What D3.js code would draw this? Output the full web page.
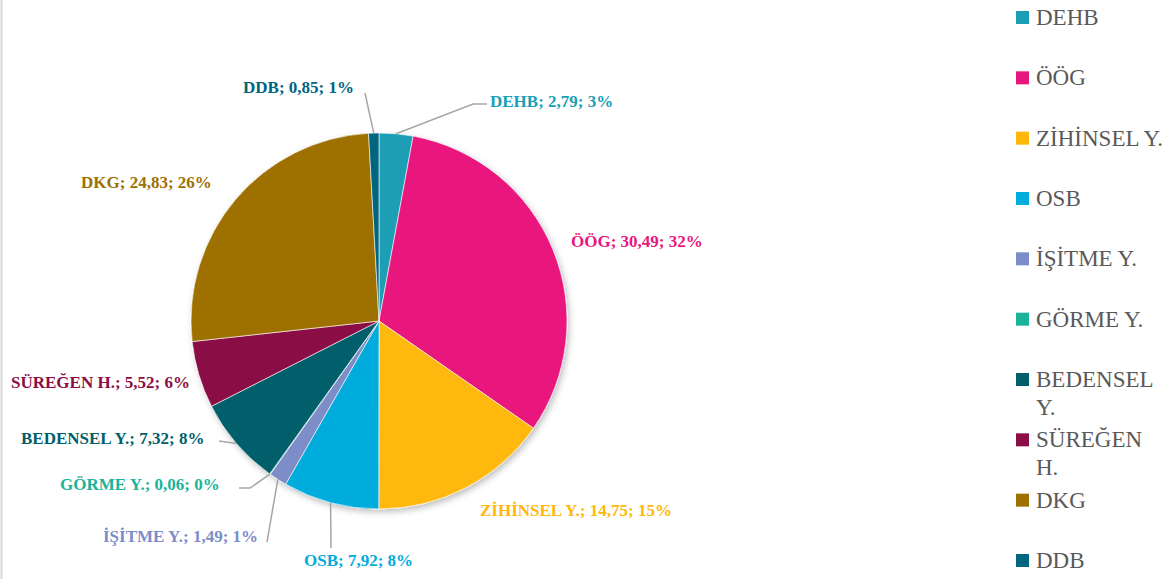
<!DOCTYPE html>
<html>
<head>
<meta charset="utf-8">
<script src="https://cdn.jsdelivr.net/npm/d3@7"></script>
<style>
  body { margin: 0; background: #fff; }
  svg { display: block; }
</style>
</head>
<body>
<div id="chart"></div>
<script>
// veriler
var categories = ['DEHB', 'ÖÖG', 'ZİHİNSEL Y.', 'OSB', 'İŞİTME Y.', 'GÖRME Y.', 'BEDENSEL Y.', 'SÜREĞEN H.', 'DKG', 'DDB']
var values = [2.79, 30.49, 14.75, 7.92, 1.49, 0.06, 7.32, 5.52, 24.83, 0.85]
var percentLabels = ['3%', '32%', '15%', '8%', '1%', '0%', '8%', '6%', '26%', '1%']
var colors = ['#1a9fb5', '#e8177d', '#ffb80a', '#00acdc', '#7b8dc8', '#1ab39a', '#005f6b', '#8b0d45', '#9e7000', '#00657f']
var legendLines = [['DEHB'], ['ÖÖG'], ['ZİHİNSEL Y.'], ['OSB'], ['İŞİTME Y.'], ['GÖRME Y.'], ['BEDENSEL', 'Y.'], ['SÜREĞEN', 'H.'], ['DKG'], ['DDB']]

// etiket yerleşimi (Excel "en uygun" konumu gibi)
var labelLayout = [
    {x: 490, y: 107, line: [[473, 104], [487, 104]]},
    {x: 571, y: 247, line: null},
    {x: 480, y: 516, line: null},
    {x: 304, y: 566, line: [[331, 548]]},
    {x: 103, y: 542, line: [[267, 542]]},
    {x: 60, y: 490, line: [[250, 488], [239, 488]]},
    {x: 21, y: 444, line: [[219, 441]]},
    {x: 11, y: 388, line: null},
    {x: 81, y: 188, line: null},
    {x: 243, y: 93, line: [[365, 93]]}
]

var width = 1174, height = 579
var cx = 379, cy = 321, radius = 188

var svg = d3.select('#chart').append('svg').attr('width', width).attr('height', height)

// sol kenar çizgisi
svg.append('line').attr('x1', 1.5).attr('x2', 1.5).attr('y1', 0).attr('y2', height)
    .attr('stroke', '#d9d9d9').attr('stroke-width', 2)

var defs = svg.append('defs')
var filter = defs.append('filter').attr('id', 'shadow').attr('x', '-10%').attr('y', '-10%').attr('width', '130%').attr('height', '130%')
filter.append('feDropShadow').attr('dx', 2).attr('dy', 3).attr('stdDeviation', 3)
    .attr('flood-color', '#000').attr('flood-opacity', 0.25)

var pie = d3.pie().sort(null).value(function (d) { return d })
var arcs = pie(values)
var arc = d3.arc().innerRadius(0).outerRadius(radius)

var g = svg.append('g').attr('transform', 'translate(' + cx + ',' + cy + ')')
g.append('g').attr('filter', 'url(#shadow)')
    .selectAll('path').data(arcs).enter().append('path')
    .attr('d', arc)
    .attr('fill', function (d, i) { return colors[i] })
    .attr('stroke', '#fff').attr('stroke-width', 0.6)

// kılavuz çizgileri
var edge = d3.arc().innerRadius(radius).outerRadius(radius)
arcs.forEach(function (d, i) {
    var lay = labelLayout[i]
    if (!lay.line) return
    var c = edge.centroid(d)
    var pts = [[cx + c[0], cy + c[1]]].concat(lay.line)
    svg.append('path').attr('d', d3.line()(pts))
        .attr('fill', 'none').attr('stroke', '#a6a6a6').attr('stroke-width', 1.5)
})

// veri etiketleri
svg.selectAll('text.lbl').data(arcs).enter().append('text')
    .attr('class', 'lbl')
    .attr('x', function (d, i) { return labelLayout[i].x })
    .attr('y', function (d, i) { return labelLayout[i].y })
    .attr('fill', function (d, i) { return colors[i] })
    .style('font-family', '"Liberation Serif", "DejaVu Serif", serif')
    .style('font-weight', 'bold')
    .style('font-size', '17px')
    .text(function (d, i) {
        return categories[i] + '; ' + String(values[i].toFixed(2)).replace('.', ',') + '; ' + percentLabels[i]
    })

// lejant
var legendY = d3.scaleLinear().domain([0, categories.length - 1]).range([25, 568])
var legend = svg.selectAll('g.leg').data(categories).enter().append('g')
    .attr('class', 'leg')
    .attr('transform', function (d, i) { return 'translate(1016,' + legendY(i) + ')' })
legend.append('rect').attr('x', 0).attr('y', -14).attr('width', 13).attr('height', 13)
    .attr('fill', function (d, i) { return colors[i] })
legend.append('text')
    .attr('x', 20).attr('y', 0)
    .attr('fill', '#595959')
    .style('font-family', '"Liberation Serif", "DejaVu Serif", serif')
    .style('font-size', '23px')
    .each(function (d, i) {
        var t = d3.select(this)
        legendLines[i].forEach(function (s, k) {
            t.append('tspan').attr('x', 20).attr('dy', k === 0 ? 0 : 28).text(s)
        })
    })
</script>
</body>
</html>
